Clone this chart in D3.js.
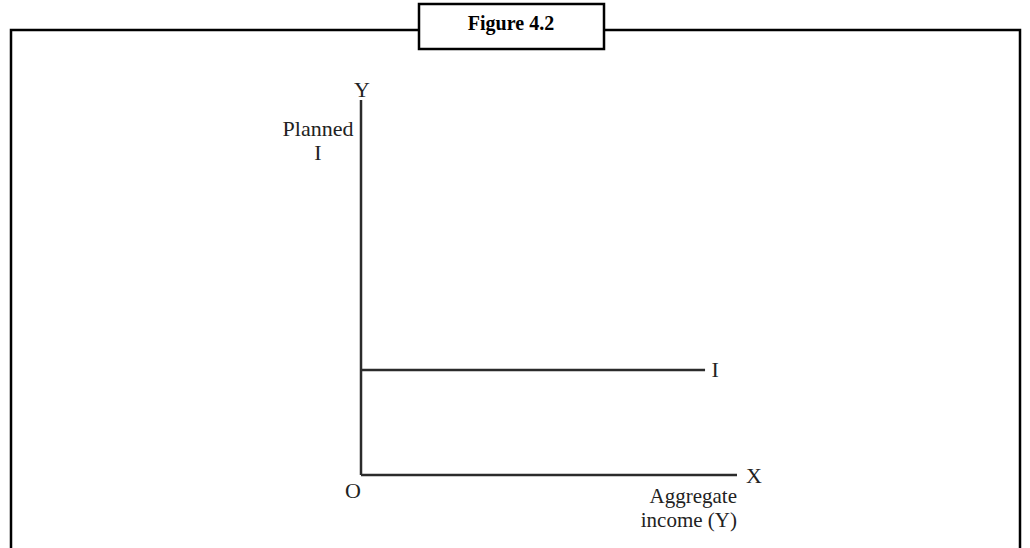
<!DOCTYPE html>
<html>
<head>
<meta charset="utf-8">
<script src="https://cdn.jsdelivr.net/npm/d3@7"></script>
<style>
  html, body { margin: 0; padding: 0; background: #fff; }
  svg { display: block; }
</style>
</head>
<body>
<div id="chart"></div>
<script>
// Achsen laufen von 0 bis 100 (nur schematisch)
const xDomain = [0, 100];
const yDomain = [0, 100];
// geplante Investition: konstant, unabhängig vom Einkommen
const investLine = [{ y: 0, i: 28 }, { y: 91.5, i: 28 }];
const title = 'Figure 4.2';
const yLabelLines = ['Planned', 'I'];
const xLabelLines = ['Aggregate', 'income (Y)'];

const width = 1030, height = 548;
const svg = d3.select('#chart').append('svg')
    .attr('width', width)
    .attr('height', height);

// Rahmen (oben offen für den Titel)
svg.append('path')
    .attr('d', `M11,548 V30 H1020 V548`)
    .attr('fill', 'none')
    .attr('stroke', '#000')
    .attr('stroke-width', 2.5);

svg.append('rect')
    .attr('x', 419).attr('y', 4)
    .attr('width', 185).attr('height', 45)
    .attr('fill', '#fff')
    .attr('stroke', '#000')
    .attr('stroke-width', 2.5);

svg.append('text')
    .attr('x', 511).attr('y', 30)
    .attr('text-anchor', 'middle')
    .style('font-family', '"Liberation Serif", serif')
    .style('font-weight', 'bold')
    .style('font-size', '20px')
    .text(title);

const x = d3.scaleLinear().domain(xDomain).range([361, 737]);
const y = d3.scaleLinear().domain(yDomain).range([475, 100]);

const g = svg.append('g');
const ink = '#2b2b2b';

// Achsen
g.append('line')
    .attr('x1', x(0)).attr('y1', y(0))
    .attr('x2', x(0)).attr('y2', y(100))
    .attr('stroke', ink).attr('stroke-width', 2.5);
g.append('line')
    .attr('x1', x(0)).attr('y1', y(0))
    .attr('x2', x(100)).attr('y2', y(0))
    .attr('stroke', ink).attr('stroke-width', 2.5);

// Investitionslinie
g.append('path')
    .datum(investLine)
    .attr('d', d3.line().x(d => x(d.y)).y(d => y(d.i)))
    .attr('fill', 'none')
    .attr('stroke', ink)
    .attr('stroke-width', 2.5);

const font = '"Liberation Serif", serif';
function label(tx, ty, txt, anchor, size) {
    g.append('text')
        .attr('x', tx).attr('y', ty)
        .attr('text-anchor', anchor || 'middle')
        .style('font-family', font)
        .style('font-size', (size || 22) + 'px')
        .attr('fill', '#222')
        .text(txt);
}

label(x(0) + 1, y(100) - 3, 'Y');
label(x(100) + 17, y(0) + 8, 'X');
label(x(0) - 8, y(0) + 23, 'O');
label(x(investLine[1].y) + 10, y(investLine[1].i) + 7, 'I');

yLabelLines.forEach((t, i) => label(318, 136 + i * 24, t));
xLabelLines.forEach((t, i) => label(737, 503 + i * 24, t, 'end', 21));
</script>
</body>
</html>
